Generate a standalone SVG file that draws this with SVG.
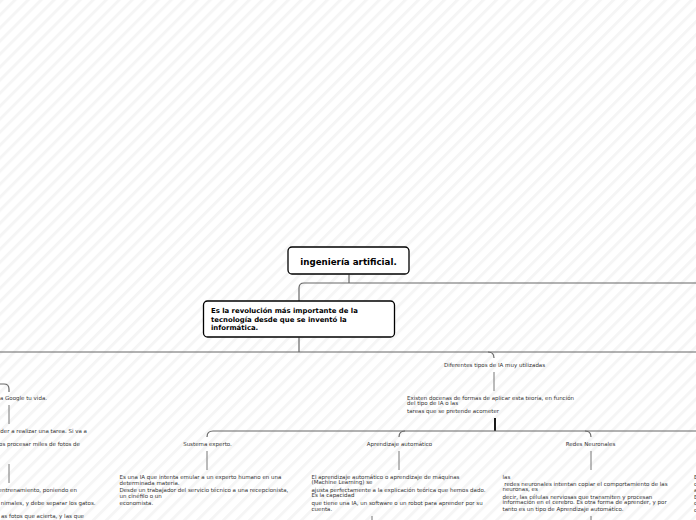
<svg xmlns="http://www.w3.org/2000/svg" width="696" height="520" viewBox="0 0 696 520">
<defs>
<pattern id="bg" patternUnits="userSpaceOnUse" width="9.2" height="9.2" patternTransform="rotate(45)">
<rect width="3" height="9.2" fill="#f5f5f5"/>
</pattern>
<style>
.t{font-family:"DejaVu Sans",Verdana,sans-serif;font-size:5.5px;fill:#333}
.m{text-anchor:middle}
.e{text-anchor:end}
.b{font-family:"DejaVu Sans",Verdana,sans-serif;font-weight:bold;fill:#000}
.box{fill:#fff;stroke:#000;stroke-width:1.3}
.c{fill:none;stroke:#666;stroke-width:1.2}
.v{fill:none;stroke:#777;stroke-width:1}
.k{fill:none;stroke:#000;stroke-width:1.8}
</style>
</defs>
<rect width="696" height="520" fill="#fff"/>
<rect width="696" height="520" fill="url(#bg)"/>

<g id="connectors">
<path class="c" d="M349,274.5 V283"/>
<path class="c" d="M696,283 H304 Q299,283 299,288 V301"/>
<path class="c" d="M299,337.5 V352"/>
<path class="c" d="M0,352 H696"/>
<path class="c" d="M488,352 Q494,352 494,358"/>
<path class="v" d="M494,372 V391"/>
<path class="k" d="M495,418 V431"/>
<path class="c" d="M696,431 H213 Q207,431 207,437"/>
<path class="c" d="M405,431 Q399,431 399,437"/>
<path class="c" d="M585,431 Q591,431 591,437"/>
<path class="v" d="M207,451 V470"/>
<path class="v" d="M399,451 V470"/>
<path class="v" d="M591,451 V470"/>
<path class="v" d="M372,516 V520"/>
<path class="v" d="M591,516 V520"/>
<path class="c" d="M0,384 H4 Q9,384 9,389 V392"/>
<path class="v" d="M9,405 V424"/>
<path class="v" d="M9,464 V483"/>
</g>

<g id="root">
<rect class="box" x="288" y="247" width="121" height="27" rx="4"/>
<text class="b" x="348.5" y="265" font-size="8.7" text-anchor="middle">ingeniería artificial.</text>
</g>

<g id="revolucion">
<rect class="box" x="203.5" y="301" width="191" height="36" rx="4"/>
<text class="b" font-size="6.9"><tspan x="211" y="313.2">Es la revolución más importante de la</tspan><tspan x="211" y="321.5">tecnología desde que se inventó la</tspan><tspan x="211" y="330.2">informática.</tspan></text>
</g>

<g id="diferentes">
<text class="t m" x="494.5" y="367">Diferentes tipos de IA muy utilizadas</text>
</g>

<g id="existen">
<text class="t"><tspan x="407" y="399.5">Existen docenas de formas de aplicar esta teoría, en función</tspan><tspan x="407" y="405">del tipo de IA o las</tspan><tspan x="407" y="412.5">tareas que se pretende acometer</tspan></text>
</g>

<g id="sustema">
<text class="t m" x="207.5" y="446">Sustema experto.</text>
</g>
<g id="sustema-texto">
<text class="t"><tspan x="119.5" y="479">Es una IA que intenta emular a un experto humano en una</tspan><tspan x="119.5" y="484.8">determinada materia.</tspan><tspan x="119.5" y="492">Desde un trabajador del servicio técnico a una recepcionista,</tspan><tspan x="119.5" y="497.7">un cinéfilo o un</tspan><tspan x="119.5" y="505.2">economista.</tspan></text>
</g>

<g id="aprendizaje">
<text class="t m" x="399.5" y="446">Aprendizaje automático</text>
</g>
<g id="aprendizaje-texto">
<text class="t"><tspan x="311.5" y="479">El aprendizaje automático o aprendizaje de máquinas</tspan><tspan x="311.5" y="484.3">(Machine Learning) se</tspan><tspan x="311.5" y="492">ajusta perfectamente a la explicación teórica que hemos dado.</tspan><tspan x="311.5" y="497.2">Es la capacidad</tspan><tspan x="311.5" y="504.8">que tiene una IA, un software o un robot para aprender por su</tspan><tspan x="311.5" y="511">cuenta.</tspan></text>
</g>

<g id="redes">
<text class="t m" x="590.5" y="446">Redes Neuronales</text>
</g>
<g id="redes-texto">
<text class="t"><tspan x="502.5" y="479">las</tspan><tspan x="502.5" y="486.3"> redes neuronales intentan copiar el comportamiento de las</tspan><tspan x="502.5" y="491.3">neuronas, es</tspan><tspan x="502.5" y="499">decir, las células nerviosas que transmiten y procesan</tspan><tspan x="502.5" y="504.3">información en el cerebro. Es otra forma de aprender, y por</tspan><tspan x="502.5" y="510.7">tanto es un tipo de Aprendizaje automático.</tspan></text>
</g>

<g id="derecha-texto">
<text class="t"><tspan x="694" y="479">E</tspan><tspan x="694" y="485.5">c</tspan><tspan x="694" y="492">a</tspan><tspan x="694" y="498.5">E</tspan><tspan x="694" y="505">c</tspan><tspan x="694" y="511.5">c</tspan></text>
</g>

<g id="izquierda-1">
<text class="t e" x="47" y="400">a Google tu vida.</text>
</g>
<g id="izquierda-2">
<text class="t e"><tspan x="87" y="433">der a realizar una tarea. Si va a</tspan><tspan x="80" y="446">os procesar miles de fotos de</tspan></text>
</g>
<g id="izquierda-3">
<text class="t e"><tspan x="77" y="492">entrenamiento, poniendo en</tspan><tspan x="95.5" y="505">nimales, y debe separar los gatos.</tspan><tspan x="84" y="518">as fotos que acierta, y las que</tspan></text>
</g>
</svg>
